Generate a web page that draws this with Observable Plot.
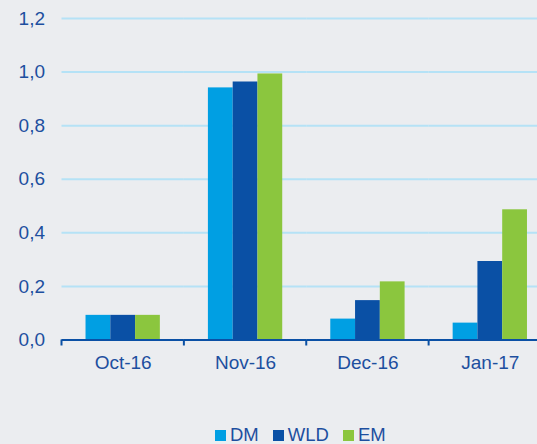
<!DOCTYPE html>
<html><head><meta charset="utf-8">
<script src="https://cdn.jsdelivr.net/npm/d3@7"></script>
<script src="https://cdn.jsdelivr.net/npm/@observablehq/plot@0.6"></script>
<style>
html,body{margin:0;padding:0;background:#ebedf0;}
#chart{width:537px;height:444px;overflow:hidden;position:relative;background:#ebedf0;}
#chart svg{display:block;}
.lg-swatches{justify-content:flex-start;margin:0 !important;font-family:"Liberation Sans",Arial,sans-serif;font-size:18.5px;line-height:22px;color:#1d4f9f;min-height:0 !important;height:22px;padding-top:24px;padding-left:215px;}
.lg-swatch{margin-right:14px !important;}
.lg-swatch svg{margin-right:4px !important;}
</style></head><body><div id="chart"></div>
<script>
const months = ["Oct-16", "Nov-16", "Dec-16", "Jan-17"];
const seriesNames = ["DM", "WLD", "EM"];
const dmValues = [0.092, 0.941, 0.078, 0.063];
const wldValues = [0.092, 0.963, 0.147, 0.293];
const emValues = [0.092, 0.993, 0.217, 0.486];
const yTicks = [0, 0.2, 0.4, 0.6, 0.8, 1.0, 1.2];
const seriesColors = ["#009fe3", "#0a50a5", "#8bc63e"];
const textColor = "#1d4f9f";
const gridColor = "#b5e2f6";
const axisColor = "#0a50a5";

const valuesBySeries = {DM: dmValues, WLD: wldValues, EM: emValues};
const data = [];
months.forEach((m, i) => {
  seriesNames.forEach(s => data.push({month: m, series: s, value: valuesBySeries[s][i]}));
});

const fmt = d => d3.format(".1f")(d).replace(".", ",");

const chart = Plot.plot({
  width: 537,
  height: 400,
  marginLeft: 61.5,
  marginRight: -14,
  marginTop: 18,
  marginBottom: 60.5,
  style: {background: "#ebedf0", fontFamily: "'Liberation Sans', Arial, sans-serif", overflow: "hidden"},
  fx: {domain: months, padding: 0, label: null, round: false},
  x: {domain: seriesNames, paddingInner: 0, paddingOuter: 0.97, round: false, axis: null},
  y: {domain: [0, 1.2], label: null, axis: null},
  color: {domain: seriesNames, range: seriesColors},
  marks: [
    Plot.ruleY(yTicks.slice(1), {stroke: gridColor, strokeWidth: 2}),
    Plot.barY(data, {fx: "month", x: "series", y: "value", fill: "series"}),
    Plot.ruleY([0], {stroke: axisColor, strokeWidth: 2}),
    Plot.axisY({ticks: yTicks, tickSize: 0, tickPadding: 17, tickFormat: fmt, fontSize: 19, fill: textColor, label: null}),
    Plot.axisFx({anchor: "bottom", tickSize: 0, tickPadding: 15.5, fontSize: 19, fill: textColor, label: null})
  ]
});

document.getElementById("chart").appendChild(chart);

// boundary tick marks on the category axis, positioned with the plot's own scales
const fx = chart.scale("fx");
const y = chart.scale("y");
const edges = months.map(m => fx.apply(m)).concat([fx.apply(months[months.length - 1]) + fx.bandwidth]);
const y0 = y.apply(0);
d3.select(chart).append("g")
  .selectAll("line").data(edges).join("line")
  .attr("x1", d => d).attr("x2", d => d)
  .attr("y1", y0).attr("y2", y0 + 6)
  .attr("stroke", axisColor).attr("stroke-width", 2);

const legend = Plot.legend({
  color: {domain: seriesNames, range: seriesColors},
  swatchSize: 11,
  className: "lg"
});
document.getElementById("chart").appendChild(legend);
</script>
</body></html>
